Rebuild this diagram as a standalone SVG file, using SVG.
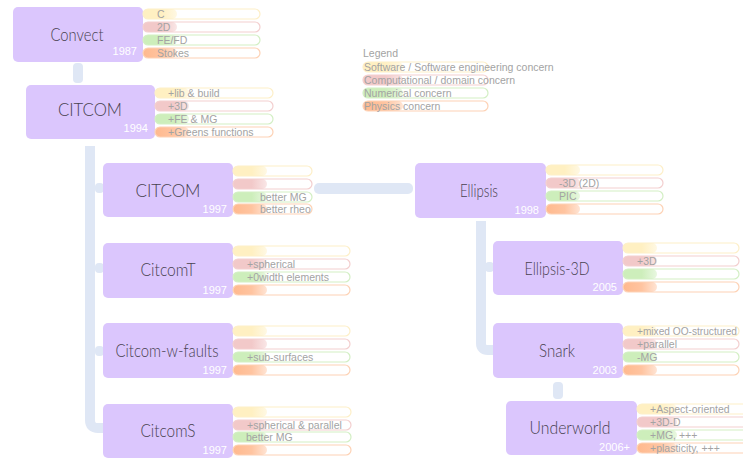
<svg xmlns="http://www.w3.org/2000/svg" width="743" height="459" viewBox="0 0 743 459">
<defs>
<linearGradient id="gsw" x1="0" x2="1" y1="0" y2="0"><stop offset="0" stop-color="#fff0c2"/><stop offset="0.55" stop-color="#fff0c2"/><stop offset="1" stop-color="#fff0c2" stop-opacity="0.45"/></linearGradient>
<linearGradient id="gcp" x1="0" x2="1" y1="0" y2="0"><stop offset="0" stop-color="#f2c9c9"/><stop offset="0.55" stop-color="#f2c9c9"/><stop offset="1" stop-color="#f2c9c9" stop-opacity="0.45"/></linearGradient>
<linearGradient id="gnm" x1="0" x2="1" y1="0" y2="0"><stop offset="0" stop-color="#cdeebb"/><stop offset="0.55" stop-color="#cdeebb"/><stop offset="1" stop-color="#cdeebb" stop-opacity="0.45"/></linearGradient>
<linearGradient id="gph" x1="0" x2="1" y1="0" y2="0"><stop offset="0" stop-color="#ffb98e"/><stop offset="0.55" stop-color="#ffc4a0"/><stop offset="1" stop-color="#ffc4a0" stop-opacity="0.45"/></linearGradient>
</defs>
<style>
.box{fill:#dbc6fd}
.title{font-family:Lato,"Noto Sans",sans-serif;font-weight:300;font-size:18px;fill:#48424f;text-anchor:middle}
.year{font-family:"Liberation Sans",Arial,sans-serif;font-size:11px;fill:#ffffff;text-anchor:end}
.bt{font-family:"Liberation Sans",Arial,sans-serif;font-size:10.5px;fill:#a3a3a3}
.o{fill:#ffffff;fill-opacity:0;stroke-width:1.2}
.o.sw{stroke:#fdefc8}.o.cp{stroke:#f3cfcf}.o.nm{stroke:#d3efc4}.o.ph{stroke:#fdd2b5}
.f.sw{fill:url(#gsw)}.f.cp{fill:url(#gcp)}.f.nm{fill:url(#gnm)}.f.ph{fill:url(#gph)}
.con{fill:#dfe7f5}
.conl{fill:none;stroke:#dfe7f5;stroke-width:10;stroke-linejoin:round}
</style>
<rect width="743" height="459" fill="#ffffff"/>

<g id="connectors">
<rect class="con" x="73" y="63" width="10" height="20" rx="4"/>
<path class="conl" d="M90,146 V420 Q90,428 98,428 H103"/>
<rect class="con" x="95" y="183" width="9" height="10" rx="4"/>
<rect class="con" x="95" y="263" width="9" height="10" rx="4"/>
<rect class="con" x="95" y="346" width="9" height="10" rx="4"/>
<rect class="con" x="314" y="183" width="99" height="11" rx="5"/>
<path class="conl" d="M481,221 V343 Q481,350 488,350 H494"/>
<rect class="con" x="485" y="262" width="9" height="10" rx="4"/>
<rect class="con" x="553" y="382" width="10" height="17" rx="4"/>
</g>

<g id="legend">
<text class="bt" x="363" y="57">Legend</text>
<rect class="f sw" x="363" y="62" width="40" height="10" rx="5"/><rect class="o sw" x="363" y="62" width="125" height="10" rx="5"/><text class="bt" x="364" y="70.5">Software / Software engineering concern</text>
<rect class="f cp" x="363" y="75" width="40" height="10" rx="5"/><rect class="o cp" x="363" y="75" width="125" height="10" rx="5"/><text class="bt" x="364" y="83.5">Computational / domain concern</text>
<rect class="f nm" x="363" y="88" width="40" height="10" rx="5"/><rect class="o nm" x="363" y="88" width="125" height="10" rx="5"/><text class="bt" x="364" y="96.5">Numerical concern</text>
<rect class="f ph" x="363" y="101" width="40" height="10" rx="5"/><rect class="o ph" x="363" y="101" width="125" height="10" rx="5"/><text class="bt" x="364" y="109.5">Physics concern</text>
</g>

<g id="convect">
<rect class="box" x="13" y="7" width="130" height="55" rx="5"/>
<text class="title" x="77" y="41" textLength="53" lengthAdjust="spacingAndGlyphs">Convect</text>
<text class="year" x="137" y="55">1987</text>
<rect class="f sw" x="143" y="9" width="34" height="10" rx="5"/><rect class="o sw" x="143" y="9" width="117" height="10" rx="5"/><text class="bt" x="157" y="17.5">C</text>
<rect class="f cp" x="143" y="22" width="34" height="10" rx="5"/><rect class="o cp" x="143" y="22" width="117" height="10" rx="5"/><text class="bt" x="157" y="30.5">2D</text>
<rect class="f nm" x="143" y="35" width="34" height="10" rx="5"/><rect class="o nm" x="143" y="35" width="117" height="10" rx="5"/><text class="bt" x="157" y="43.5">FE/FD</text>
<rect class="f ph" x="143" y="48" width="34" height="10" rx="5"/><rect class="o ph" x="143" y="48" width="117" height="10" rx="5"/><text class="bt" x="157" y="56.5">Stokes</text>
</g>

<g id="citcom1994">
<rect class="box" x="26" y="85" width="129" height="54" rx="5"/>
<text class="title" x="90" y="116" textLength="64" lengthAdjust="spacingAndGlyphs">CITCOM</text>
<text class="year" x="148" y="132">1994</text>
<rect class="f sw" x="155" y="88" width="34" height="10" rx="5"/><rect class="o sw" x="155" y="88" width="118" height="10" rx="5"/><text class="bt" x="168" y="96.5">+lib &amp; build</text>
<rect class="f cp" x="155" y="101" width="34" height="10" rx="5"/><rect class="o cp" x="155" y="101" width="118" height="10" rx="5"/><text class="bt" x="168" y="109.5">+3D</text>
<rect class="f nm" x="155" y="114" width="34" height="10" rx="5"/><rect class="o nm" x="155" y="114" width="118" height="10" rx="5"/><text class="bt" x="168" y="122.5">+FE &amp; MG</text>
<rect class="f ph" x="155" y="127" width="34" height="10" rx="5"/><rect class="o ph" x="155" y="127" width="118" height="10" rx="5"/><text class="bt" x="168" y="135.5">+Greens functions</text>
</g>

<g id="citcom1997">
<rect class="box" x="103" y="163" width="130" height="54" rx="5"/>
<text class="title" x="168" y="197" textLength="65" lengthAdjust="spacingAndGlyphs">CITCOM</text>
<text class="year" x="227" y="213">1997</text>
<rect class="f sw" x="233" y="166" width="34" height="10" rx="5"/><rect class="o sw" x="233" y="166" width="79" height="10" rx="5"/>
<rect class="f cp" x="233" y="179" width="34" height="10" rx="5"/><rect class="o cp" x="233" y="179" width="79" height="10" rx="5"/>
<rect class="f nm" x="233" y="192" width="34" height="10" rx="5"/><rect class="o nm" x="233" y="192" width="79" height="10" rx="5"/><text class="bt" x="260" y="200.5">better MG</text>
<rect class="f ph" x="233" y="204" width="34" height="10" rx="5"/><rect class="o ph" x="233" y="204" width="79" height="10" rx="5"/><text class="bt" x="260" y="212.5">better rheo</text>
</g>

<g id="citcomt">
<rect class="box" x="103" y="243" width="130" height="55" rx="5"/>
<text class="title" x="168" y="276" textLength="55" lengthAdjust="spacingAndGlyphs">CitcomT</text>
<text class="year" x="227" y="294">1997</text>
<rect class="f sw" x="233" y="246" width="34" height="10" rx="5"/><rect class="o sw" x="233" y="246" width="117" height="10" rx="5"/>
<rect class="f cp" x="233" y="259" width="34" height="10" rx="5"/><rect class="o cp" x="233" y="259" width="117" height="10" rx="5"/><text class="bt" x="247" y="267.5">+spherical</text>
<rect class="f nm" x="233" y="272" width="34" height="10" rx="5"/><rect class="o nm" x="233" y="272" width="117" height="10" rx="5"/><text class="bt" x="247" y="280.5">+0width elements</text>
<rect class="f ph" x="233" y="285" width="34" height="10" rx="5"/><rect class="o ph" x="233" y="285" width="117" height="10" rx="5"/>
</g>

<g id="citcomwfaults">
<rect class="box" x="103" y="323" width="130" height="55" rx="5"/>
<text class="title" x="167" y="357" textLength="103" lengthAdjust="spacingAndGlyphs">Citcom-w-faults</text>
<text class="year" x="227" y="374">1997</text>
<rect class="f sw" x="233" y="326" width="34" height="10" rx="5"/><rect class="o sw" x="233" y="326" width="117" height="10" rx="5"/>
<rect class="f cp" x="233" y="339" width="34" height="10" rx="5"/><rect class="o cp" x="233" y="339" width="117" height="10" rx="5"/>
<rect class="f nm" x="233" y="352" width="34" height="10" rx="5"/><rect class="o nm" x="233" y="352" width="117" height="10" rx="5"/><text class="bt" x="247" y="360.5">+sub-surfaces</text>
<rect class="f ph" x="233" y="365" width="34" height="10" rx="5"/><rect class="o ph" x="233" y="365" width="117" height="10" rx="5"/>
</g>

<g id="citcoms">
<rect class="box" x="103" y="404" width="130" height="54" rx="5"/>
<text class="title" x="168" y="437" textLength="55" lengthAdjust="spacingAndGlyphs">CitcomS</text>
<text class="year" x="227" y="454">1997</text>
<rect class="f sw" x="233" y="407" width="34" height="10" rx="5"/><rect class="o sw" x="233" y="407" width="118" height="10" rx="5"/>
<rect class="f cp" x="233" y="420" width="34" height="10" rx="5"/><rect class="o cp" x="233" y="420" width="118" height="10" rx="5"/><text class="bt" x="247" y="428.5">+spherical &amp; parallel</text>
<rect class="f nm" x="233" y="432" width="34" height="10" rx="5"/><rect class="o nm" x="233" y="432" width="118" height="10" rx="5"/><text class="bt" x="246" y="440.5">better MG</text>
<rect class="f ph" x="233" y="445" width="34" height="10" rx="5"/><rect class="o ph" x="233" y="445" width="118" height="10" rx="5"/>
</g>

<g id="ellipsis">
<rect class="box" x="415" y="163" width="131" height="55" rx="5"/>
<text class="title" x="479" y="197" textLength="38" lengthAdjust="spacingAndGlyphs">Ellipsis</text>
<text class="year" x="539" y="214">1998</text>
<rect class="f sw" x="546" y="165" width="34" height="10" rx="5"/><rect class="o sw" x="546" y="165" width="117" height="10" rx="5"/>
<rect class="f cp" x="546" y="178" width="34" height="10" rx="5"/><rect class="o cp" x="546" y="178" width="117" height="10" rx="5"/><text class="bt" x="559" y="186.5">-3D (2D)</text>
<rect class="f nm" x="546" y="191" width="34" height="10" rx="5"/><rect class="o nm" x="546" y="191" width="117" height="10" rx="5"/><text class="bt" x="559" y="199.5">PIC</text>
<rect class="f ph" x="546" y="204" width="34" height="10" rx="5"/><rect class="o ph" x="546" y="204" width="117" height="10" rx="5"/>
</g>

<g id="ellipsis3d">
<rect class="box" x="493" y="241" width="130" height="54" rx="5"/>
<text class="title" x="557" y="275" textLength="65" lengthAdjust="spacingAndGlyphs">Ellipsis-3D</text>
<text class="year" x="617" y="291">2005</text>
<rect class="f sw" x="623" y="243" width="34" height="10" rx="5"/><rect class="o sw" x="623" y="243" width="116" height="10" rx="5"/>
<rect class="f cp" x="623" y="256" width="34" height="10" rx="5"/><rect class="o cp" x="623" y="256" width="116" height="10" rx="5"/><text class="bt" x="637" y="264.5">+3D</text>
<rect class="f nm" x="623" y="269" width="34" height="10" rx="5"/><rect class="o nm" x="623" y="269" width="116" height="10" rx="5"/>
<rect class="f ph" x="623" y="282" width="34" height="10" rx="5"/><rect class="o ph" x="623" y="282" width="116" height="10" rx="5"/>
</g>

<g id="snark">
<rect class="box" x="493" y="323" width="130" height="55" rx="5"/>
<text class="title" x="557" y="357" textLength="36" lengthAdjust="spacingAndGlyphs">Snark</text>
<text class="year" x="617" y="374">2003</text>
<rect class="f sw" x="623" y="326" width="34" height="10" rx="5"/><rect class="o sw" x="623" y="326" width="116" height="10" rx="5"/><text class="bt" x="637" y="334.5" textLength="100" lengthAdjust="spacingAndGlyphs">+mixed OO-structured</text>
<rect class="f cp" x="623" y="339" width="34" height="10" rx="5"/><rect class="o cp" x="623" y="339" width="116" height="10" rx="5"/><text class="bt" x="637" y="347.5">+parallel</text>
<rect class="f nm" x="623" y="352" width="34" height="10" rx="5"/><rect class="o nm" x="623" y="352" width="116" height="10" rx="5"/><text class="bt" x="637" y="360.5">-MG</text>
<rect class="f ph" x="623" y="365" width="34" height="10" rx="5"/><rect class="o ph" x="623" y="365" width="116" height="10" rx="5"/>
</g>

<g id="underworld">
<rect class="box" x="506" y="401" width="131" height="54" rx="5"/>
<text class="title" x="570" y="434" textLength="81" lengthAdjust="spacingAndGlyphs">Underworld</text>
<text class="year" x="630" y="451">2006+</text>
<rect class="f sw" x="637" y="404" width="40" height="10" rx="5"/><rect class="o sw" x="637" y="404" width="116" height="10" rx="5"/><text class="bt" x="650" y="412.5">+Aspect-oriented</text>
<rect class="f cp" x="637" y="417" width="40" height="10" rx="5"/><rect class="o cp" x="637" y="417" width="116" height="10" rx="5"/><text class="bt" x="650" y="425.5">+3D-D</text>
<rect class="f nm" x="637" y="430" width="40" height="10" rx="5"/><rect class="o nm" x="637" y="430" width="116" height="10" rx="5"/><text class="bt" x="650" y="438.5">+MG, +++</text>
<rect class="f ph" x="637" y="443" width="40" height="10" rx="5"/><rect class="o ph" x="637" y="443" width="116" height="10" rx="5"/><text class="bt" x="650" y="451.5">+plasticity, +++</text>
</g>
</svg>
